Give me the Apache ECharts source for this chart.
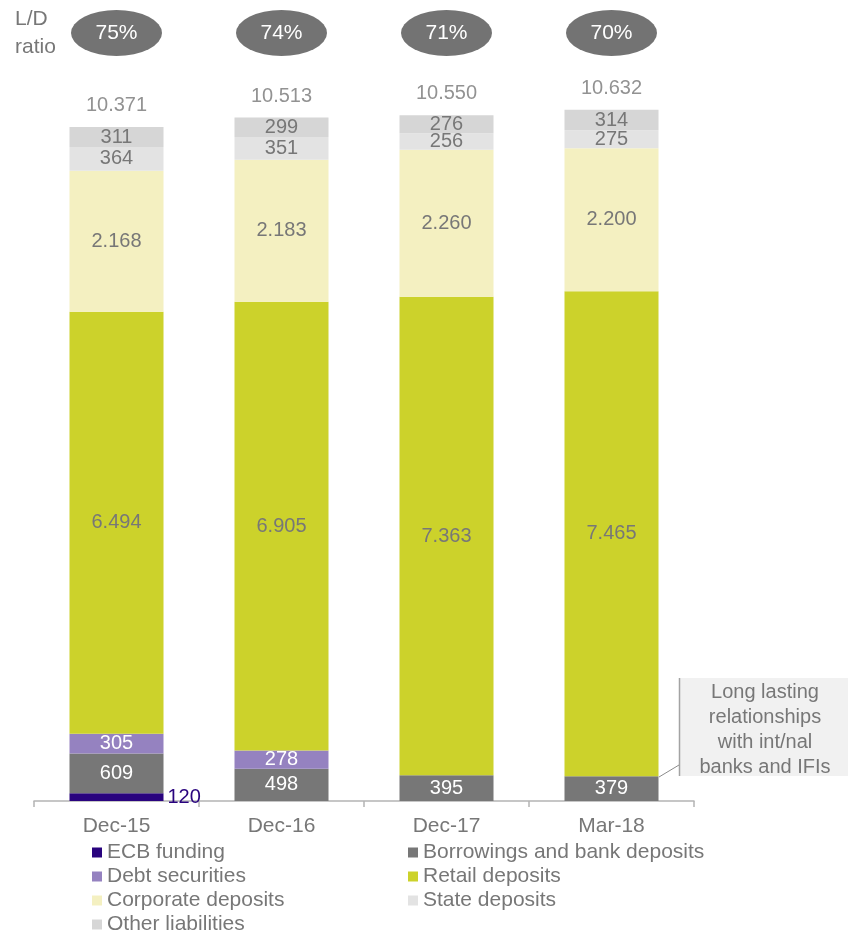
<!DOCTYPE html>
<html>
<head>
<meta charset="utf-8">
<script src="https://cdn.jsdelivr.net/npm/echarts@6/dist/echarts.min.js"></script>
<style>
  html, body { margin: 0; padding: 0; background: #ffffff; }
  #chart { width: 848px; height: 936px; }
</style>
</head>
<body>
<div id="chart"></div>
<script>
// Funding structure by period (EUR m)
const categories = ['Dec-15', 'Dec-16', 'Dec-17', 'Mar-18'];
const ecbFunding = [120, null, null, null];
const borrowings = [609, 498, 395, 379];
const debtSecurities = [305, 278, null, null];
const retailDeposits = [6494, 6905, 7363, 7465];
const corporateDeposits = [2168, 2183, 2260, 2200];
const stateDeposits = [364, 351, 256, 275];
const otherLiabilities = [311, 299, 276, 314];
const totals = [10371, 10513, 10550, 10632];
const ldRatios = [75, 74, 71, 70];
const ratioRow = 'L/D ratio';

const GREY_TEXT = '#777777';
const FONT = '"Liberation Sans", Arial, sans-serif';

// thousands separator as a dot
function fmt(v) {
  return String(v).replace(/\B(?=(\d{3})+(?!\d))/g, '.');
}

function stackSeries(name, data, color, labelColor, extraLabel) {
  return {
    name: name,
    type: 'bar',
    stack: 'funding',
    xAxisIndex: 0,
    yAxisIndex: 0,
    barWidth: 94,
    data: data,
    itemStyle: { color: color },
    label: Object.assign({
      show: true,
      position: 'inside',
      color: labelColor,
      fontSize: 20,
      fontFamily: FONT,
      formatter: p => (p.value == null ? '' : fmt(p.value))
    }, extraLabel || {}),
    emphasis: { disabled: true },
    silent: true
  };
}

const legendText = { color: GREY_TEXT, fontSize: 21, lineHeight: 21, fontFamily: FONT };

const chart = echarts.init(document.getElementById('chart'), null, { renderer: 'canvas' });

chart.setOption({
  animation: false,
  backgroundColor: '#ffffff',
  textStyle: { fontFamily: FONT },
  grid: [
    { left: 34, right: 154, top: 21, bottom: 135 },
    { left: 34, right: 154, top: 10, height: 46 }
  ],
  xAxis: [
    {
      type: 'category',
      gridIndex: 0,
      data: categories,
      axisLine: { lineStyle: { color: '#b4b4b4', width: 1.5 } },
      axisTick: { show: true, length: 6, lineStyle: { color: '#b4b4b4', width: 1.5 } },
      axisLabel: { color: GREY_TEXT, fontSize: 21, margin: 15, fontFamily: FONT }
    },
    {
      type: 'category',
      gridIndex: 1,
      data: categories,
      show: false
    }
  ],
  yAxis: [
    { type: 'value', gridIndex: 0, min: 0, max: 12000, show: false },
    {
      type: 'category',
      gridIndex: 1,
      data: [ratioRow],
      axisLine: { show: false },
      axisTick: { show: false },
      splitLine: { show: false },
      axisLabel: {
        align: 'left',
        margin: 19,
        color: GREY_TEXT,
        fontSize: 21,
        lineHeight: 28,
        padding: [10, 0, 0, 0],
        fontFamily: FONT,
        formatter: () => 'L/D\nratio'
      }
    }
  ],
  legend: [
    {
      orient: 'vertical',
      left: 92,
      top: 842,
      height: 110,
      padding: 0,
      itemWidth: 10,
      itemHeight: 10,
      itemGap: 3,
      icon: 'rect',
      selectedMode: false,
      textStyle: legendText,
      data: ['ECB funding', 'Debt securities', 'Corporate deposits', 'Other liabilities']
    },
    {
      orient: 'vertical',
      left: 408,
      top: 842,
      height: 110,
      padding: 0,
      itemWidth: 10,
      itemHeight: 10,
      itemGap: 3,
      icon: 'rect',
      selectedMode: false,
      textStyle: legendText,
      data: ['Borrowings and bank deposits', 'Retail deposits', 'State deposits']
    }
  ],
  series: [
    stackSeries('ECB funding', ecbFunding, '#29037e', '#29037e', { position: 'right', distance: 4 }),
    stackSeries('Borrowings and bank deposits', borrowings, '#777777', '#ffffff'),
    stackSeries('Debt securities', debtSecurities, '#9582c0', '#ffffff'),
    stackSeries('Retail deposits', retailDeposits, '#ccd22b', GREY_TEXT),
    stackSeries('Corporate deposits', corporateDeposits, '#f4f0c1', GREY_TEXT),
    stackSeries('State deposits', stateDeposits, '#e3e3e3', GREY_TEXT),
    stackSeries('Other liabilities', otherLiabilities, '#d6d6d6', GREY_TEXT),
    {
      // totals above each bar
      type: 'scatter',
      xAxisIndex: 0,
      yAxisIndex: 0,
      symbolSize: 1,
      itemStyle: { color: 'rgba(255,255,255,0)' },
      data: totals,
      label: {
        show: true,
        position: 'top',
        distance: 11,
        color: GREY_TEXT,
        fontSize: 20,
        fontFamily: FONT,
        formatter: p => fmt(p.value)
      },
      silent: true
    },
    {
      // loan-to-deposit ratio bubbles
      type: 'scatter',
      xAxisIndex: 1,
      yAxisIndex: 1,
      symbol: 'circle',
      symbolSize: [91, 46],
      itemStyle: { color: '#737373', opacity: 1 },
      data: categories.map((c, i) => [c, ratioRow, ldRatios[i]]),
      label: {
        show: true,
        position: 'inside',
        color: '#ffffff',
        fontSize: 21,
        fontFamily: FONT,
        formatter: p => p.value[2] + '%'
      },
      silent: true
    }
  ],
  graphic: [
    {
      type: 'rect',
      shape: { x: 680, y: 678, width: 168, height: 98 },
      style: { fill: '#f1f1f1' },
      silent: true
    },
    {
      type: 'line',
      shape: { x1: 679.5, y1: 678, x2: 679.5, y2: 776 },
      style: { stroke: '#a3a3a3', lineWidth: 1.5 },
      silent: true
    },
    {
      type: 'line',
      shape: { x1: 659, y1: 777, x2: 679, y2: 765 },
      style: { stroke: '#8c8c8c', lineWidth: 1 },
      silent: true
    },
    {
      type: 'text',
      x: 765,
      y: 680,
      style: {
        text: 'Long lasting\nrelationships\nwith int/nal\nbanks and IFIs',
        align: 'center',
        verticalAlign: 'top',
        fontSize: 20,
        fontFamily: FONT,
        lineHeight: 25,
        fill: GREY_TEXT
      },
      silent: true
    }
  ]
});
</script>
</body>
</html>
